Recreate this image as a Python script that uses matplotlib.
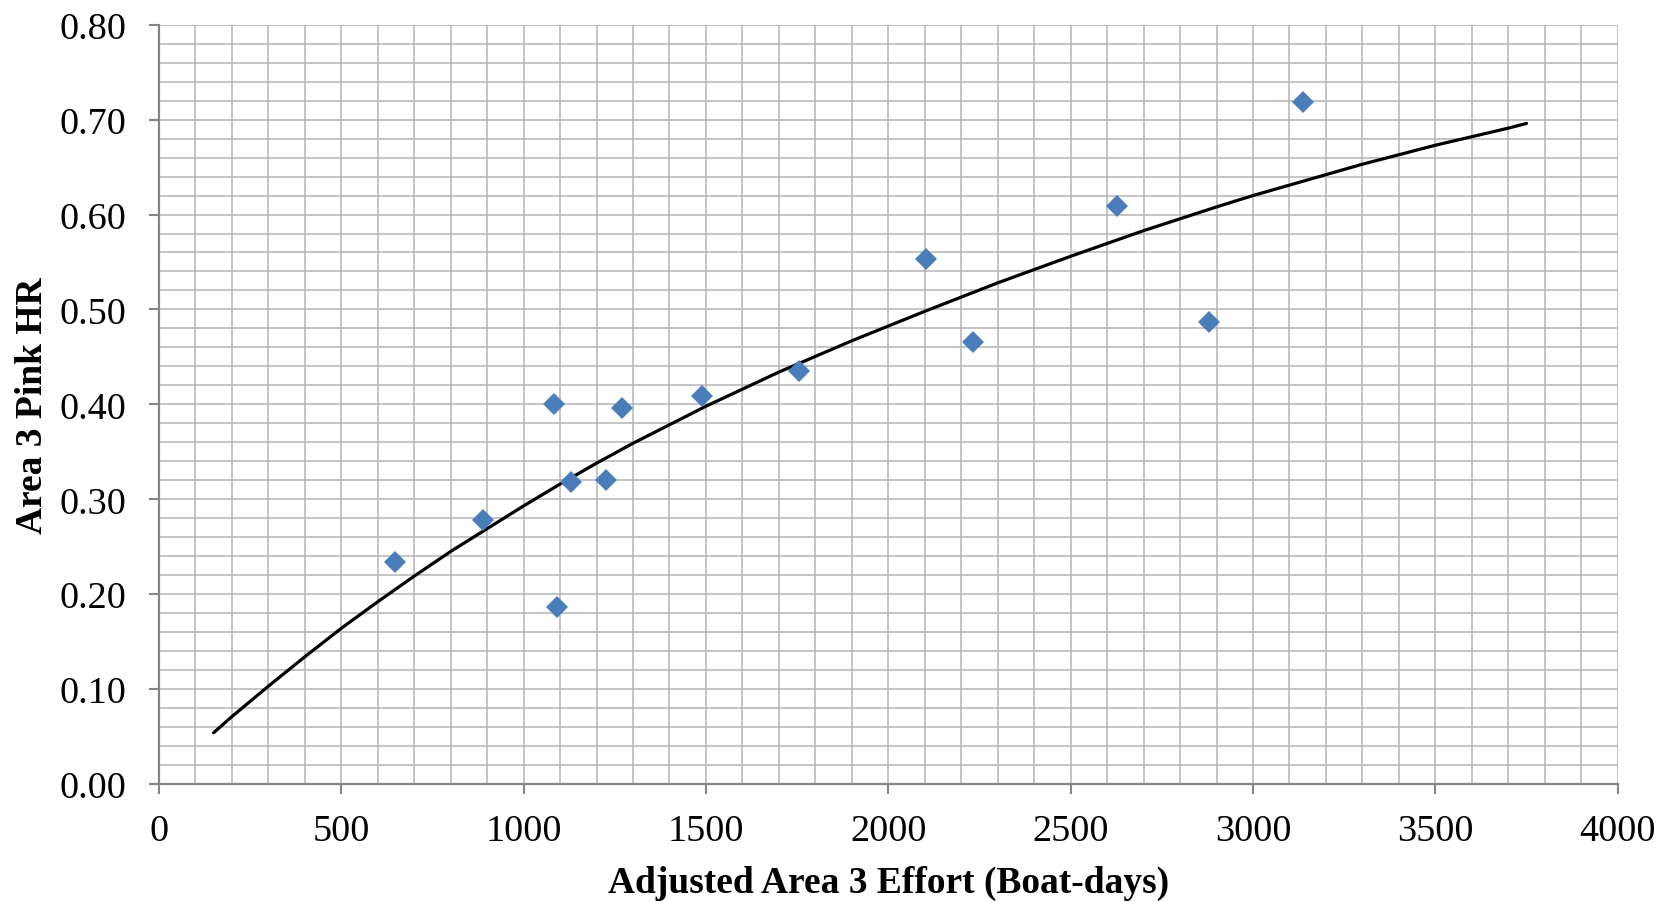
import matplotlib
matplotlib.use("Agg")
import matplotlib.pyplot as plt
from matplotlib.ticker import MultipleLocator

# Observed data points
effort = [648, 890, 1083, 1092, 1129, 1227, 1270, 1488, 1755, 2104, 2231, 2628, 2878, 3136]
harvest_rate = [0.234, 0.278, 0.400, 0.187, 0.318, 0.320, 0.396, 0.409, 0.435, 0.553, 0.466, 0.609, 0.487, 0.719]

# Fitted curve
fit_effort = [150, 200, 300, 400, 500, 600, 700, 800, 900, 1000, 1100, 1200, 1300,
              1500, 1700, 1900, 2100, 2300, 2500, 2700, 2900, 3000, 3100, 3200, 3300,
              3400, 3500, 3600, 3700, 3750]
fit_hr = [0.054, 0.071, 0.103, 0.134, 0.164, 0.192, 0.219, 0.245, 0.269, 0.293, 0.316, 0.338, 0.359,
          0.398, 0.434, 0.467, 0.498, 0.528, 0.556, 0.583, 0.608, 0.620, 0.631, 0.642, 0.653,
          0.663, 0.673, 0.682, 0.691, 0.696]

x_ticks = [0, 500, 1000, 1500, 2000, 2500, 3000, 3500, 4000]
y_ticks = [0.0, 0.1, 0.2, 0.3, 0.4, 0.5, 0.6, 0.7, 0.8]

plt.rcParams['font.family'] = ['Liberation Serif', 'DejaVu Serif']

W, H = 1681, 903
fig = plt.figure(figsize=(W / 100, H / 100), dpi=100)
x0, x1 = 158.9, 1617.7
y_top, y_bot = 25.7, 785.0
ax = fig.add_axes([x0 / W, 1 - y_bot / H, (x1 - x0) / W, (y_bot - y_top) / H])

ax.set_xlim(0, 4000)
ax.set_ylim(0, 0.8)

grid_color = '#b4b4b4'
ax.xaxis.set_minor_locator(MultipleLocator(100))
ax.yaxis.set_minor_locator(MultipleLocator(0.02))
ax.set_xticks(x_ticks)
ax.set_yticks(y_ticks)
ax.set_yticklabels([f"{v:.2f}" for v in y_ticks])
ax.set_xticklabels([str(v) for v in x_ticks])
ax.grid(True, which='both', color=grid_color, linewidth=1.1, zorder=0)
ax.set_axisbelow(True)

for s in ['top', 'right']:
    ax.spines[s].set_visible(False)
for s in ['left', 'bottom']:
    ax.spines[s].set_color('#868686')
    ax.spines[s].set_linewidth(1.6)

ax.tick_params(axis='both', which='major', direction='out', length=7.5, width=1.5,
               color='#868686', labelsize=27.5, pad=16, labelcolor='black')
ax.tick_params(axis='x', which='major', pad=14)
ax.tick_params(axis='both', which='minor', length=0)

ax.plot(fit_effort, fit_hr, color='black', linewidth=2.3, zorder=3,
        solid_capstyle='round', solid_joinstyle='round')
ax.plot(effort, harvest_rate, linestyle='none', marker='D', markersize=11.5,
        color='#4a7ebb', markeredgewidth=0, zorder=4)

ax.set_xlabel('Adjusted Area 3 Effort (Boat-days)', fontsize=27, fontweight='bold', labelpad=12)
ax.set_ylabel('Area 3 Pink HR', fontsize=27, fontweight='bold', labelpad=7)

fig.savefig('out.png', dpi=100, facecolor='white')
